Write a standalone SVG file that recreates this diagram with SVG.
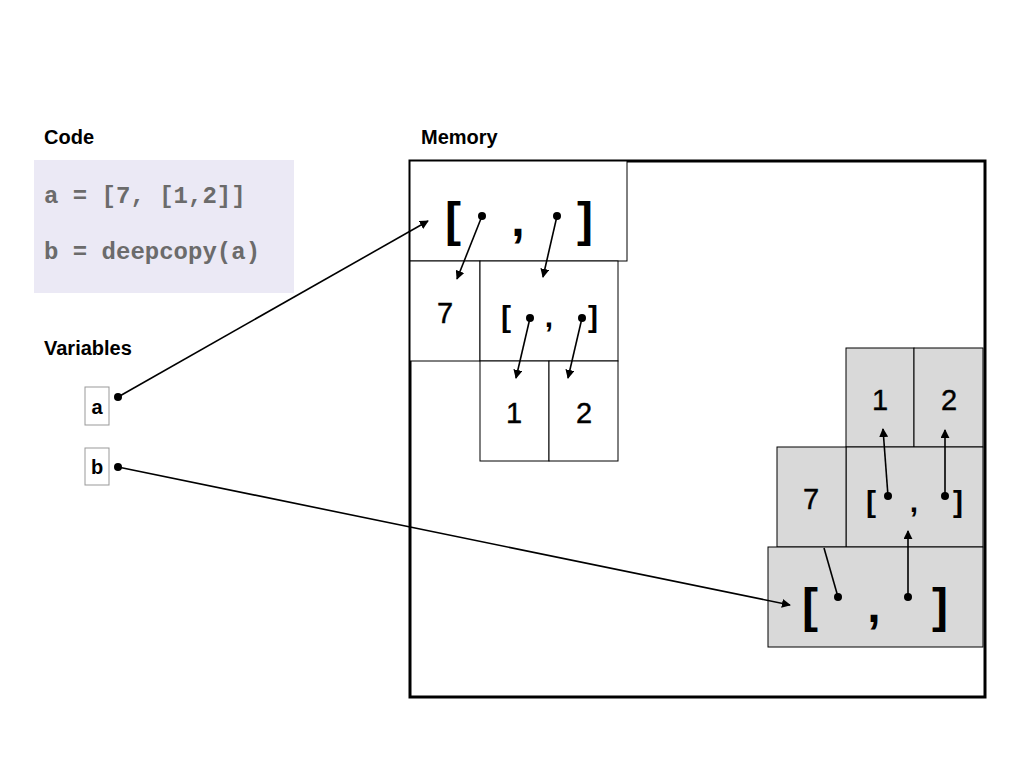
<svg xmlns="http://www.w3.org/2000/svg" width="1024" height="768" viewBox="0 0 1024 768">
  <defs>
    <marker id="arrow" viewBox="0 0 10 10" refX="9" refY="5" markerWidth="9" markerHeight="9" markerUnits="userSpaceOnUse" orient="auto">
      <path d="M0,0 L10,5 L0,10 z" fill="#000"/>
    </marker>
    <marker id="dot" viewBox="0 0 10 10" refX="5" refY="5" markerWidth="8" markerHeight="8" markerUnits="userSpaceOnUse">
      <circle cx="5" cy="5" r="5" fill="#000"/>
    </marker>
  </defs>
  <style>
    .title { font-family: "Liberation Sans", Arial, sans-serif; font-weight: bold; font-size: 20px; fill: #000; }
    .code { font-family: "Liberation Mono", "Courier New", monospace; font-weight: bold; font-size: 24px; fill: #6b6b6b; }
    .cell { stroke: #000; stroke-width: 1; fill: #fff; }
    .gray { fill: #d9d9d9; }
    .num { font-family: "Liberation Sans", Arial, sans-serif; font-size: 29px; text-anchor: middle; fill: #000; stroke: #000; stroke-width: 0.4; }
    .br { font-family: "Liberation Sans", Arial, sans-serif; font-weight: bold; text-anchor: middle; fill: #000; }
    .var { font-family: "Liberation Sans", Arial, sans-serif; font-weight: bold; font-size: 20px; text-anchor: middle; fill: #000; }
    .ref { stroke: #000; stroke-width: 1.6; fill: none; marker-start: url(#dot); marker-end: url(#arrow); }
  </style>

  <rect width="1024" height="768" fill="#fff"/>

  <!-- code panel -->
  <g id="code">
    <text class="title" x="44" y="144">Code</text>
    <rect x="34" y="160" width="260" height="133" fill="#ebe9f5"/>
    <text class="code" x="44" y="203" xml:space="preserve">a = [7, [1,2]]</text>
    <text class="code" x="44" y="259">b = deepcopy(a)</text>
  </g>

  <!-- variables -->
  <g id="variables">
    <text class="title" x="44" y="355">Variables</text>
  </g>
  <g id="var-a">
    <rect x="85" y="387" width="24" height="38" fill="#fff" stroke="#999" stroke-width="1"/>
    <text class="var" x="97" y="414">a</text>
  </g>
  <g id="var-b">
    <rect x="85" y="448" width="24" height="37" fill="#fff" stroke="#999" stroke-width="1"/>
    <text class="var" x="97" y="474">b</text>
  </g>

  <!-- memory area -->
  <g id="memory">
    <text class="title" x="421" y="144">Memory</text>
    <rect x="410" y="161" width="575" height="536" fill="none" stroke="#000" stroke-width="3"/>
  </g>

  <!-- original list a -->
  <g id="a-outer">
    <rect class="cell" x="410" y="161" width="217" height="100"/>
    <text class="br" x="453" y="236" font-size="48">[</text>
    <text class="br" x="518" y="236" font-size="48">,</text>
    <text class="br" x="585" y="236" font-size="48">]</text>
  </g>
  <g id="a-seven">
    <rect class="cell" x="410" y="261" width="70" height="100"/>
    <text class="num" x="445" y="323">7</text>
  </g>
  <g id="a-inner">
    <rect class="cell" x="480" y="261" width="138" height="100"/>
    <text class="br" x="506" y="327" font-size="30">[</text>
    <text class="br" x="549" y="327" font-size="30">,</text>
    <text class="br" x="593" y="327" font-size="30">]</text>
  </g>
  <g id="a-one">
    <rect class="cell" x="480" y="361" width="69" height="100"/>
    <text class="num" x="514" y="423">1</text>
  </g>
  <g id="a-two">
    <rect class="cell" x="549" y="361" width="69" height="100"/>
    <text class="num" x="584" y="423">2</text>
  </g>

  <!-- deep copy b -->
  <g id="b-one">
    <rect class="cell gray" x="846" y="348" width="68" height="99"/>
    <text class="num" x="880" y="410">1</text>
  </g>
  <g id="b-two">
    <rect class="cell gray" x="914" y="348" width="69" height="99"/>
    <text class="num" x="949" y="410">2</text>
  </g>
  <g id="b-inner">
    <rect class="cell gray" x="846" y="447" width="137" height="100"/>
    <text class="br" x="871" y="512" font-size="30">[</text>
    <text class="br" x="914" y="512" font-size="30">,</text>
    <text class="br" x="958" y="512" font-size="30">]</text>
  </g>
  <g id="b-seven">
    <rect class="cell gray" x="777" y="447" width="69" height="100"/>
    <text class="num" x="811" y="509">7</text>
  </g>
  <g id="b-outer">
    <rect class="cell gray" x="768" y="547" width="215" height="100"/>
    <text class="br" x="810" y="622" font-size="48">[</text>
    <text class="br" x="874" y="622" font-size="48">,</text>
    <text class="br" x="940" y="622" font-size="48">]</text>
  </g>

  <!-- references -->
  <g id="connectors">
    <line class="ref" x1="118" y1="397" x2="428" y2="221"/>
    <line class="ref" x1="118" y1="467" x2="790" y2="605"/>
    <line class="ref" x1="482" y1="216" x2="457" y2="279"/>
    <line class="ref" x1="557" y1="216" x2="543" y2="277"/>
    <line class="ref" x1="530" y1="318" x2="516" y2="378"/>
    <line class="ref" x1="582" y1="318" x2="568" y2="378"/>
    <line class="ref" x1="888" y1="496" x2="883" y2="429"/>
    <line class="ref" x1="945" y1="496" x2="945" y2="430"/>
    <line class="ref" x1="908" y1="597" x2="908" y2="531"/>
    <!-- first element of the copied list: pointer tucked under the 7 cell -->
    <line x1="838" y1="597" x2="824" y2="548" stroke="#000" stroke-width="1.6" marker-start="url(#dot)"/>
  </g>
</svg>
